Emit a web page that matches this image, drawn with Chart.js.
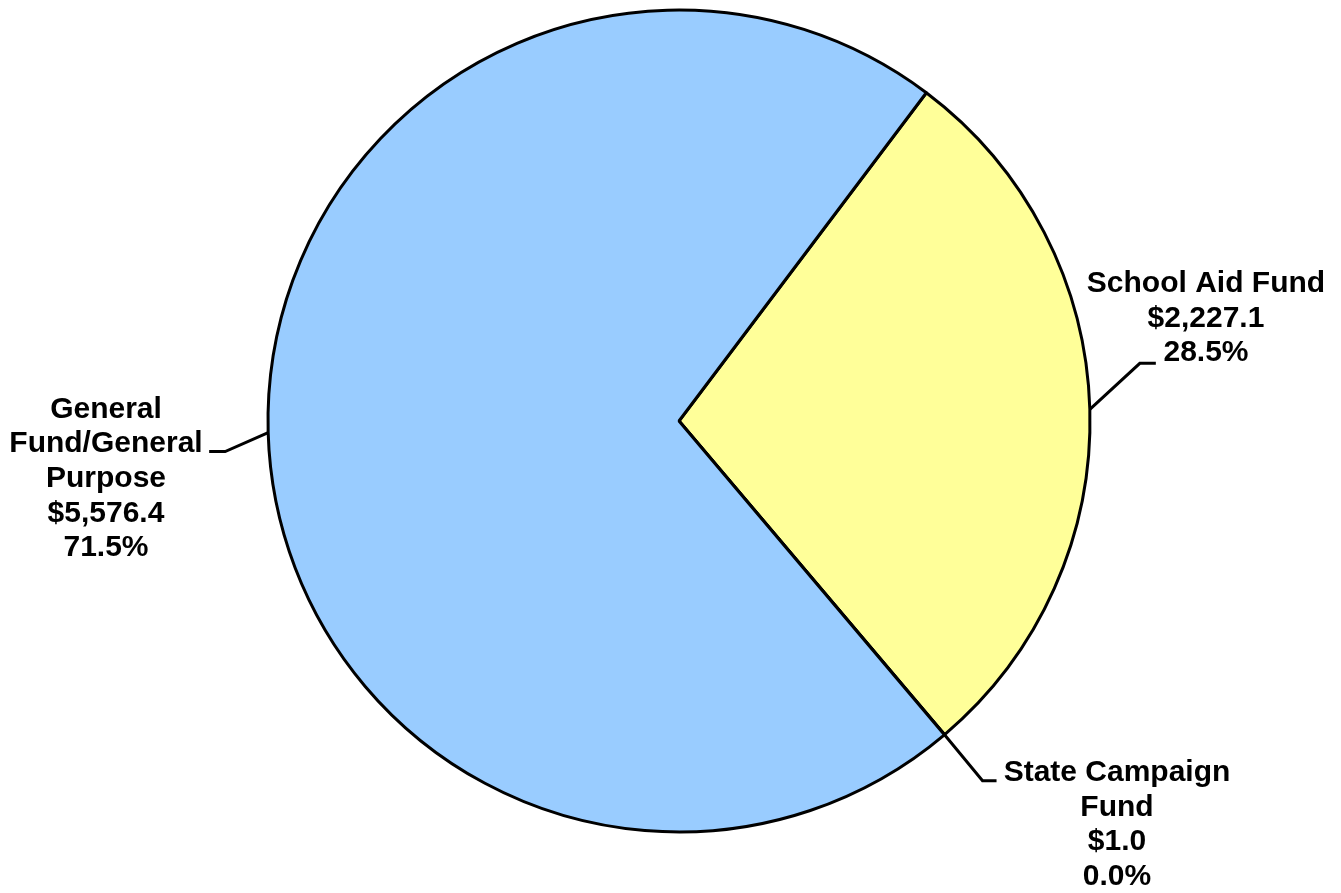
<!DOCTYPE html>
<html>
<head>
<meta charset="utf-8">
<script src="https://cdn.jsdelivr.net/npm/chart.js@4/dist/chart.umd.min.js"></script>
<style>
  html, body { margin: 0; padding: 0; background: #ffffff; }
  #wrap { width: 1341px; height: 893px; }
</style>
</head>
<body>
<div id="wrap"><canvas id="c" width="1341" height="893"></canvas></div>
<script>
// ---- Data ----
const categories = ["School Aid Fund", "State Campaign Fund", "General Fund/General Purpose"];
const labelLines = [["School Aid Fund"], ["State Campaign", "Fund"], ["General", "Fund/General", "Purpose"]];
const values = [2227.1, 1.0, 5576.4];
const colors = ["#FFFF99", "#99CCFF", "#99CCFF"];

// ---- Label placement (layout, not data) ----
const labelLayout = [
  { knee: [50, -46], tail: 16, text: [1206, 284] },
  { knee: [38, 46], tail: 14, text: [1117, 773] },
  { knee: [-43, 19], tail: -16, text: [106, 409.5] }
];

const total = values.reduce((a, b) => a + b, 0);
function fmtMoney(v) {
  return "$" + v.toLocaleString("en-US", { minimumFractionDigits: 1, maximumFractionDigits: 1 });
}
function fmtPct(v) { return (v / total * 100).toFixed(1) + "%"; }

const labelPlugin = {
  id: "pieLabels",
  afterDatasetsDraw(chart) {
    const ctx = chart.ctx;
    const meta = chart.getDatasetMeta(0);
    ctx.save();
    meta.data.forEach((arc, i) => {
      const p = arc.getProps(["x", "y", "startAngle", "endAngle", "outerRadius"], true);
      const mid = (p.startAngle + p.endAngle) / 2;
      const sx = p.x + Math.cos(mid) * p.outerRadius;
      const sy = p.y + Math.sin(mid) * p.outerRadius;
      const L = labelLayout[i];
      const kx = sx + L.knee[0], ky = sy + L.knee[1];
      ctx.beginPath();
      ctx.strokeStyle = "#000";
      ctx.lineWidth = 3;
      ctx.moveTo(sx, sy);
      ctx.lineTo(kx, ky);
      ctx.lineTo(kx + L.tail, ky);
      ctx.stroke();

      const lines = labelLines[i].concat([fmtMoney(values[i]), fmtPct(values[i])]);
      ctx.fillStyle = "#000";
      ctx.font = 'bold 30px "Liberation Sans", Arial, sans-serif';
      ctx.textAlign = "center";
      ctx.textBaseline = "middle";
      lines.forEach((t, j) => ctx.fillText(t, L.text[0], L.text[1] + j * 34.6));
    });
    ctx.restore();
  }
};

new Chart(document.getElementById("c"), {
  type: "pie",
  data: {
    labels: categories,
    datasets: [{
      data: values,
      backgroundColor: colors,
      borderColor: "#000000",
      borderWidth: 3
    }]
  },
  options: {
    responsive: false,
    animation: false,
    devicePixelRatio: 1,
    rotation: 37,
    radius: 411,
    layout: { padding: { left: 267, right: 250, top: 10, bottom: 61 } },
    plugins: {
      legend: { display: false },
      tooltip: { enabled: false },
      title: { display: false }
    }
  },
  plugins: [labelPlugin]
});
</script>
</body>
</html>
